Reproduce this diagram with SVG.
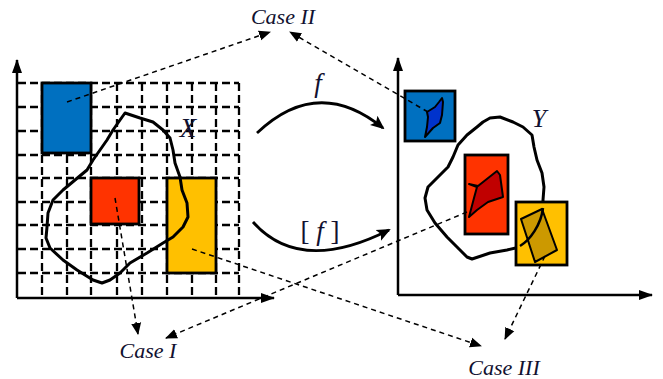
<svg xmlns="http://www.w3.org/2000/svg" width="663" height="379" viewBox="0 0 663 379">
<style>
.grid{stroke:#000;stroke-width:2.3;stroke-dasharray:8 4;fill:none}
.axis{stroke:#000;stroke-width:2.5;fill:none}
.box{stroke:#000;stroke-width:2.8}
.blob{stroke:#000;stroke-width:3;fill:none;stroke-linejoin:round}
.dash{stroke:#000;stroke-width:1.5;stroke-dasharray:5 4;fill:none}
.curve{stroke:#000;stroke-width:2.8;fill:none}
.lbl{font-family:"Liberation Serif","Times New Roman",serif;font-style:italic;fill:#111130}
</style>
<defs>
<marker id="ah" markerUnits="userSpaceOnUse" markerWidth="12" markerHeight="12" viewBox="0 0 12 12" refX="11" refY="6" orient="auto">
<path d="M0,1 L12,6 L0,11 Z" fill="#000"/>
</marker>
<marker id="axh" markerUnits="userSpaceOnUse" markerWidth="14" markerHeight="14" viewBox="0 0 14 14" refX="13" refY="7" orient="auto">
<path d="M0,2 L14,7 L0,12 Z" fill="#000"/>
</marker>
<marker id="ch" markerUnits="userSpaceOnUse" markerWidth="14" markerHeight="14" viewBox="0 0 14 14" refX="12" refY="7" orient="auto">
<path d="M0,1 L14,7 L0,13 L3,7 Z" fill="#000"/>
</marker>
</defs>

<g id="left-panel">
<g id="grid">
<path class="grid" d="M18,83 H239 M18,107 H239 M18,131 H239 M18,155 H239 M18,178 H239 M18,202 H239 M18,225 H239 M18,249 H239 M18,273 H239"/>
<path class="grid" d="M42,83 V297 M67,83 V297 M91,83 V297 M117,83 V297 M142,83 V297 M167,83 V297 M192,83 V297 M216,83 V297 M239,83 V297"/>
</g>
<path class="axis" d="M17,298 V60" marker-end="url(#axh)"/>
<path class="axis" d="M17,298 H274" marker-end="url(#axh)"/>
<g id="box-blue-left"><rect class="box" x="42" y="83" width="49" height="70" fill="#0070C0"/></g>
<g id="box-red-left"><rect class="box" x="91" y="178" width="48" height="46" fill="#FF3300"/></g>
<g id="box-yellow-left"><rect class="box" x="167" y="178" width="49" height="95" fill="#FFC000"/></g>
<g id="set-X">
<path class="blob" d="M125,113 L140,118 L153,122 L163,130 L170,138 L173,150 L175,163 L180,177 L182,190 L187,203 L188,217 L183,227 L173,237 L163,243 L147,253 L130,263 L120,273 L110,280 L102,283 L93,280 L77,270 L63,260 L50,248 L46,238 L47,227 L48,213 L53,200 L63,190 L75,180 L87,170 L93,160 L100,150 L107,140 L113,130 L120,120 Z"/>
<text class="lbl" x="188" y="137" font-size="27" text-anchor="middle">X</text>
</g>
</g>

<g id="right-panel">
<path class="axis" d="M398,295 V58" marker-end="url(#axh)"/>
<path class="axis" d="M398,295 H652" marker-end="url(#axh)"/>
<g id="set-Y">
<path class="blob" d="M490,118 L500,117 L513,122 L523,127 L532,135 L534,147 L537,160 L542,173 L544,187 L543,200 L543,210 L540,220 L533,230 L527,240 L520,247 L507,250 L490,253 L472,259 L467,257 L460,250 L447,237 L435,223 L427,210 L425,198 L428,187 L438,177 L448,167 L453,157 L458,145 L467,135 L477,127 L483,122 Z"/>
<text class="lbl" x="539" y="127" font-size="26" text-anchor="middle">Y</text>
</g>
<g id="box-blue-right">
<rect class="box" x="405" y="91" width="50" height="50" fill="#0070C0"/>
<path d="M427,112 L435,107 L439,102 L442,98 L443,102 L442,115 L440,123 L433,128 L425,137 L427,127 L428,117 Z" fill="#0033CC" stroke="#000" stroke-width="2" stroke-linejoin="round"/>
</g>
<g id="box-red-right">
<rect class="box" x="465" y="155" width="43" height="79" fill="#FF3300"/>
<path d="M469,184 L478,186 L497,171 L500,175 L503,197 L488,202 L477,210 L469,217 L474,198 L477,187 Z" fill="#C00000" stroke="#000" stroke-width="2" stroke-linejoin="round"/>
</g>
<g id="box-yellow-right">
<rect class="box" x="516" y="202" width="51" height="63" fill="#FFC000"/>
<path d="M521,219 L542,209 L557,250 L535,262 Z" fill="#CC9900" stroke="#000" stroke-width="2" stroke-linejoin="round"/>
<path d="M543,208 C541,225 530,240 520,246" fill="none" stroke="#000" stroke-width="2.5"/>
</g>
</g>

<g id="connectors">
<path class="curve" d="M257,133 Q318,75 383,128" marker-end="url(#ch)"/>
<path class="curve" d="M253,222 Q300,275 389,230" marker-end="url(#ch)"/>
<path class="dash" d="M67,102 L270,32" marker-end="url(#ah)"/>
<path class="dash" d="M428,112 L290,32" marker-end="url(#ah)"/>
<path class="dash" d="M115,198 L138,334" marker-end="url(#ah)"/>
<path class="dash" d="M467,212 L166,338" marker-end="url(#ah)"/>
<path class="dash" d="M192,249 L481,346" marker-end="url(#ah)"/>
<path class="dash" d="M545,256 L505,339" marker-end="url(#ah)"/>
</g>

<g id="labels">
<text class="lbl" x="283" y="24" font-size="22" text-anchor="middle">Case II</text>
<text class="lbl" x="148" y="358" font-size="22" text-anchor="middle">Case I</text>
<text class="lbl" x="504" y="375" font-size="22" text-anchor="middle">Case III</text>
<text class="lbl" x="318" y="92" font-size="27" text-anchor="middle">f</text>
<text x="320" y="240" font-size="27" text-anchor="middle" font-family="Liberation Serif, serif" fill="#111130">[ <tspan font-style="italic">f</tspan> ]</text>
</g>
</svg>
